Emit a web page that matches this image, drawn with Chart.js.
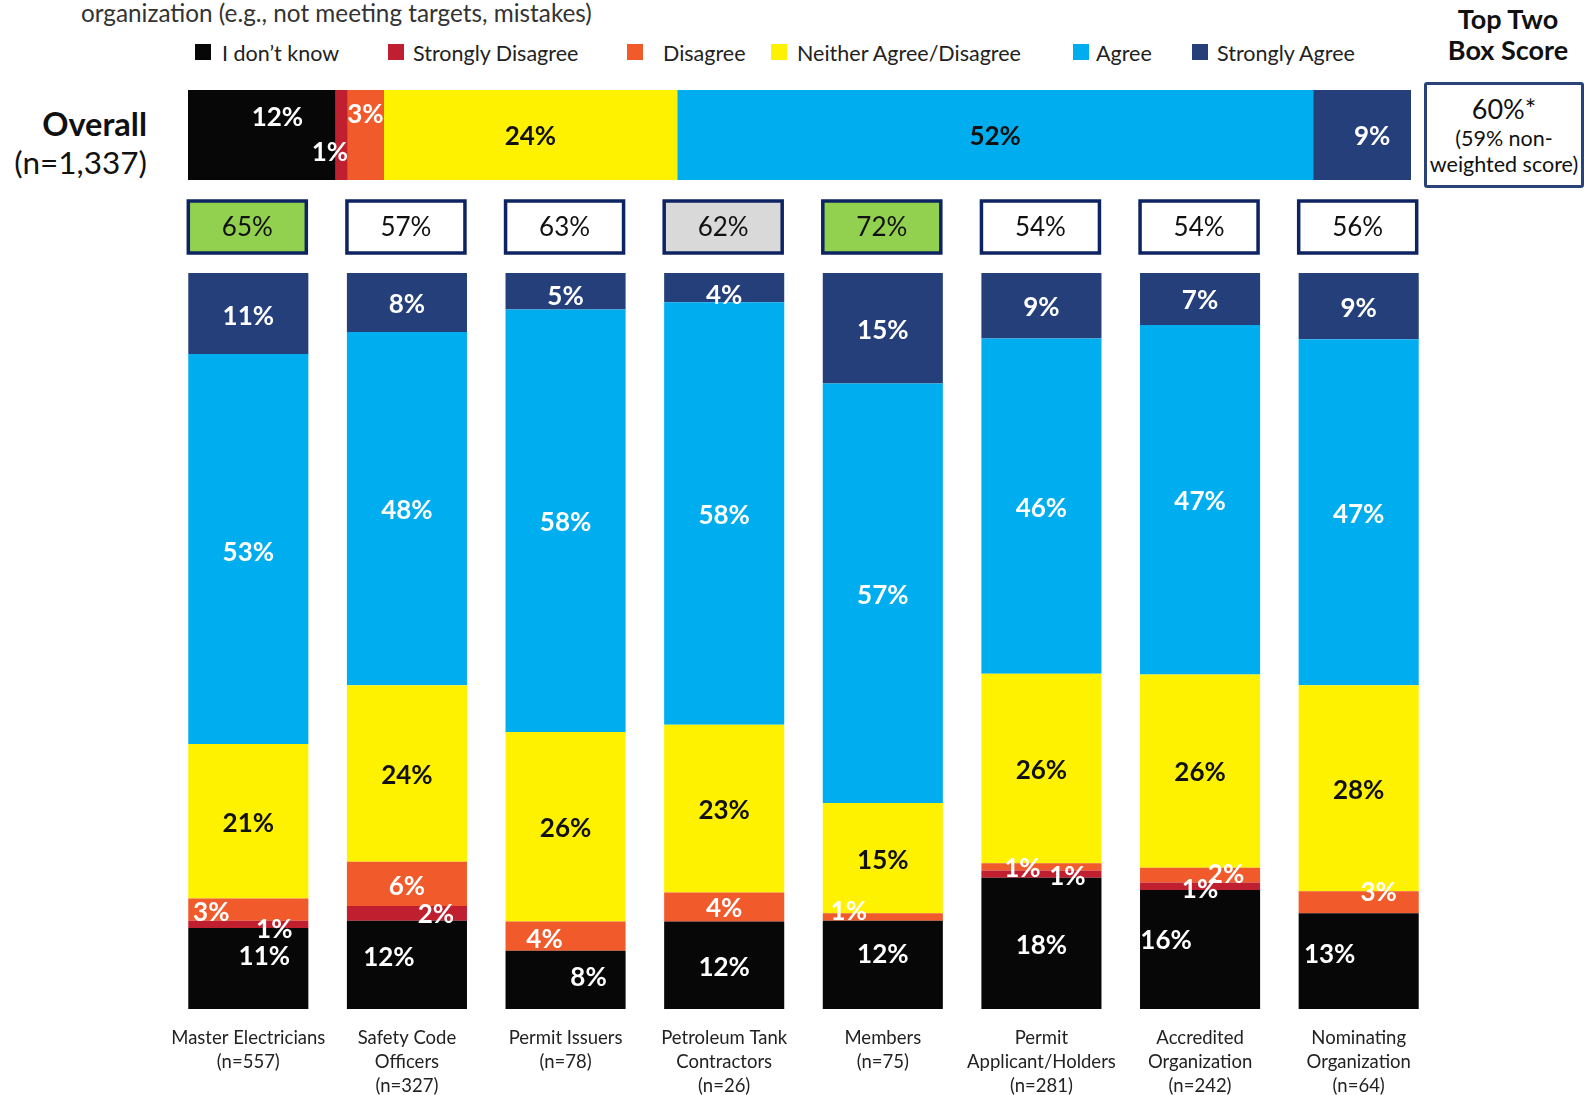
<!DOCTYPE html>
<html>
<head>
<meta charset="utf-8">
<script src="https://cdn.jsdelivr.net/npm/chart.js@4.4.0/dist/chart.umd.min.js"></script>
<style>
  body { margin: 0; width: 1584px; height: 1095px; overflow: hidden; background: #fff; font-family: Lato, "Open Sans", sans-serif; color: #222; position: relative; }
  .abs { position: absolute; }
  #subtitle { left: 81px; top: -2px; font-size: 24.3px; color: #333; white-space: nowrap; }
  .lg-box { position: absolute; width: 16px; height: 16px; top: 44px; }
  .lg-txt { position: absolute; top: 40px; font-size: 21.5px; color: #222; white-space: nowrap; }
  #tt-head { left: 1420px; width: 176px; top: 3px; text-align: center; font-weight: bold; font-size: 27px; line-height: 31px; color: #111; }
  #tt-box { left: 1424px; top: 82px; width: 154px; height: 100px; border: 3px solid #2a4478; border-radius: 3px; text-align: center; color: #111; }
  #tt-box .big { font-size: 27px; margin-top: 8px; line-height: 32px; }
  #tt-box .small { font-size: 21.5px; line-height: 26px; }
  #overall-label { left: 0; width: 147px; top: 105px; text-align: right; font-size: 31.5px; line-height: 38px; color: #111; }
  #overall-label b { font-size: 32.5px; }
</style>
</head>
<body>
<div id="subtitle" class="abs">organization (e.g., not meeting targets, mistakes)</div>
<div id="legend"></div>
<div id="tt-head" class="abs">Top Two<br>Box Score</div>
<div id="tt-box" class="abs"><div class="big">60%*</div><div class="small">(59% non-</div><div class="small">weighted score)</div></div>
<div id="overall-label" class="abs"><b>Overall</b><br>(n=1,337)</div>
<canvas id="overallChart" class="abs" width="1223" height="90" style="left:188px;top:90px"></canvas>
<canvas id="groupChart" class="abs" width="1584" height="900" style="left:0;top:195px"></canvas>
<script>
const responses = ["I don’t know", "Strongly Disagree", "Disagree", "Neither Agree/Disagree", "Agree", "Strongly Agree"];
const groups = [
  ["Master Electricians", "(n=557)"],
  ["Safety Code", "Officers", "(n=327)"],
  ["Permit Issuers", "(n=78)"],
  ["Petroleum Tank", "Contractors", "(n=26)"],
  ["Members", "(n=75)"],
  ["Permit", "Applicant/Holders", "(n=281)"],
  ["Accredited", "Organization", "(n=242)"],
  ["Nominating", "Organization", "(n=64)"]
];
const dontKnow         = [11, 12,  8, 12, 12, 18, 16, 13];
const stronglyDisagree = [ 1,  2,  0,  0,  0,  1,  1,  0];
const disagree         = [ 3,  6,  4,  4,  1,  1,  2,  3];
const neither          = [21, 24, 26, 23, 15, 26, 26, 28];
const agree            = [53, 48, 58, 58, 57, 46, 47, 47];
const stronglyAgree    = [11,  8,  5,  4, 15,  9,  7,  9];
const topTwo           = [65, 57, 63, 62, 72, 54, 54, 56];
const overall          = [12, 1, 3, 24, 52, 9];

const colors = ["#070707", "#c01f2f", "#f15a2b", "#fff200", "#00aeef", "#243f7a"];
const boxFill = ["#92d050", "#ffffff", "#ffffff", "#d9d9d9", "#92d050", "#ffffff", "#ffffff", "#ffffff"];

// legend (html, positions picked to match the slide)
const lgBoxX = [195, 388, 627, 771, 1073, 1192];
const lgTxtX = [222, 413, 663, 797, 1096, 1217];
const legend = document.getElementById("legend");
responses.forEach((r, i) => {
  const b = document.createElement("div");
  b.className = "lg-box";
  b.style.left = lgBoxX[i] + "px";
  b.style.background = colors[i];
  legend.appendChild(b);
  const t = document.createElement("div");
  t.className = "lg-txt";
  t.style.left = lgTxtX[i] + "px";
  t.textContent = r;
  legend.appendChild(t);
});

// columns are scaled so every one fills 100%
const series = [dontKnow, stronglyDisagree, disagree, neither, agree, stronglyAgree];
const colTotals = groups.map((g, i) => series.reduce((s, arr) => s + arr[i], 0));

const segLabels = {
  id: "segLabels",
  afterDatasetsDraw(chart, args, opts) {
    const ctx = chart.ctx;
    ctx.save();
    ctx.font = "bold 26px Lato";
    ctx.textAlign = "center";
    ctx.textBaseline = "middle";
    chart.data.datasets.forEach((ds, di) => {
      chart.getDatasetMeta(di).data.forEach((bar, i) => {
        const v = ds.raw[i];
        if (!v) return;
        const c = bar.getCenterPoint();
        const off = opts.offsets[di + "," + i] || [0, 0];
        ctx.fillStyle = opts.textColors[di];
        ctx.fillText(v + "%", c.x + off[0], c.y + off[1] + 2);
      });
    });
    ctx.restore();
  }
};

const scoreBoxes = {
  id: "scoreBoxes",
  afterDraw(chart) {
    const ctx = chart.ctx;
    const x = chart.scales.x;
    const top = chart.chartArea.top;
    ctx.save();
    topTwo.forEach((v, i) => {
      const cx = x.getPixelForValue(i) - 1;
      const w = 118, h = 52, y0 = top - 72;
      ctx.fillStyle = boxFill[i];
      ctx.fillRect(cx - w / 2, y0, w, h);
      ctx.strokeStyle = "#0e2462";
      ctx.lineWidth = 3.5;
      ctx.strokeRect(cx - w / 2, y0, w, h);
      ctx.fillStyle = "#111";
      ctx.font = "26px Lato";
      ctx.textAlign = "center";
      ctx.textBaseline = "middle";
      ctx.fillText(v + "%", cx, y0 + h / 2 + 1);
    });
    ctx.restore();
  }
};

new Chart(document.getElementById("groupChart"), {
  type: "bar",
  data: {
    labels: groups,
    datasets: series.map((arr, di) => ({
      label: responses[di],
      raw: arr,
      data: arr.map((v, i) => v * 100 / colTotals[i]),
      backgroundColor: colors[di],
      barPercentage: 0.757,
      categoryPercentage: 1
    }))
  },
  options: {
    responsive: false,
    animation: false,
    layout: { padding: { left: 169, right: 146, top: 78, bottom: 0 } },
    scales: {
      x: {
        stacked: true,
        grid: { display: false, drawTicks: false },
        border: { display: false },
        ticks: { autoSkip: false, maxRotation: 0, padding: 17, color: "#222", font: { family: "Lato", size: 18.5, lineHeight: "24px" } },
        afterFit: (s) => { s.height = 86; }
      },
      y: { stacked: true, display: false, min: 0, max: 100 }
    },
    plugins: {
      legend: { display: false },
      tooltip: { enabled: false },
      segLabels: {
        textColors: ["#fff", "#fff", "#fff", "#111", "#fff", "#fff"],
        offsets: {
          "0,0": [16, -14], "1,0": [26, 3], "2,0": [-37, 1], "5,0": [0, 1], "4,0": [0, 2],
          "0,1": [-18, -9], "1,1": [29, -1], "2,1": [0, 1],
          "0,2": [23, -4], "2,2": [-21, 1], "5,2": [0, 3],
          "5,3": [0, 6],
          "0,4": [0, -12], "2,4": [-34, -7],
          "1,5": [26, 0], "2,5": [-19, 0],
          "0,6": [-34, -11], "1,6": [0, 1], "2,6": [26, -3],
          "0,7": [-29, -9], "2,7": [20, -12]
        }
      }
    }
  },
  plugins: [segLabels, scoreBoxes]
});

// overall bar is drawn on a 0-100 axis as in the slide (last segment runs off the end)
new Chart(document.getElementById("overallChart"), {
  type: "bar",
  data: {
    labels: ["Overall"],
    datasets: overall.map((v, di) => ({
      label: responses[di],
      raw: [v],
      data: [v],
      backgroundColor: colors[di],
      barPercentage: 1,
      categoryPercentage: 1
    }))
  },
  options: {
    indexAxis: "y",
    responsive: false,
    animation: false,
    layout: { padding: 0 },
    scales: {
      x: { stacked: true, display: false, min: 0, max: 100 },
      y: { stacked: true, display: false }
    },
    plugins: {
      legend: { display: false },
      tooltip: { enabled: false },
      segLabels: {
        textColors: ["#fff", "#fff", "#fff", "#111", "#111", "#fff"],
        offsets: { "0,0": [16, -19], "1,0": [-11, 16], "2,0": [0, -22], "5,0": [4, 0] }
      }
    }
  },
  plugins: [segLabels]
});
</script>
</body>
</html>
